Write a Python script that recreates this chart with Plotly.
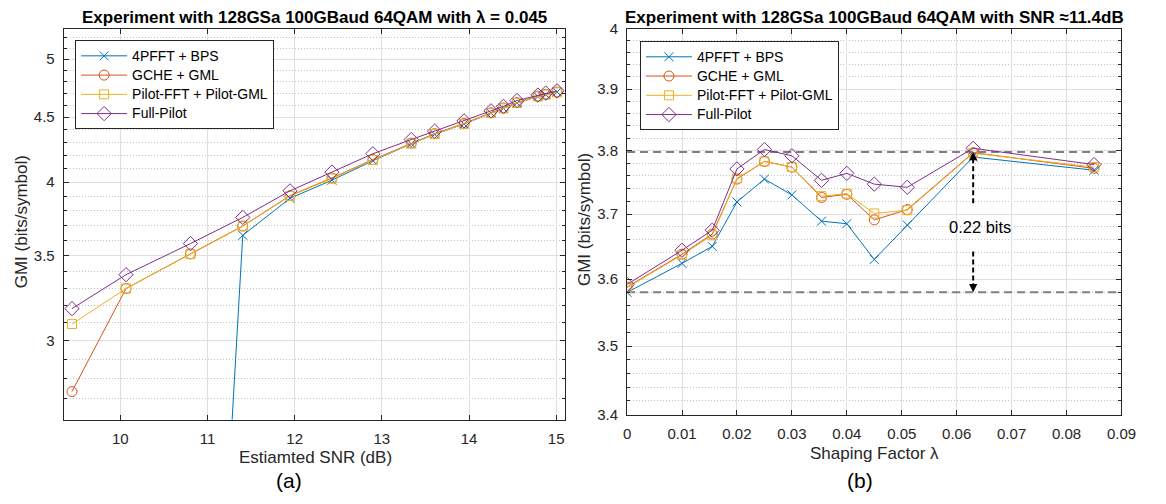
import numpy as np
import plotly.graph_objects as go

W, H = 1166, 504

# ---- Panel (a): GMI vs. estimated SNR, lambda = 0.045 ----
snr_db = [9.445, 10.065, 10.804, 11.404, 11.946, 12.427, 12.897, 13.337,
          13.605, 13.943, 14.252, 14.395, 14.55, 14.79, 14.88, 15.01]
gmi_a_bps = [0.45, 0.55, 0.70, 3.632, 3.884, 4.014, 4.158, 4.288,
             4.362, 4.445, 4.532, 4.572, 4.617, 4.672, 4.688, 4.710]
gmi_a_gche = [2.736, 3.298, 3.512, 3.694, 3.903, 4.030, 4.167, 4.293,
              4.367, 4.449, 4.536, 4.575, 4.620, 4.675, 4.690, 4.710]
gmi_a_pilot = [3.092, 3.298, 3.510, 3.692, 3.900, 4.026, 4.163, 4.290,
               4.364, 4.446, 4.533, 4.572, 4.617, 4.672, 4.688, 4.707]
gmi_a_full = [3.180, 3.382, 3.578, 3.752, 3.937, 4.073, 4.211, 4.321,
              4.387, 4.470, 4.552, 4.589, 4.638, 4.684, 4.701, 4.720]

# ---- Panel (b): GMI vs. shaping factor, SNR ~ 11.4 dB ----
shaping = [0, 0.01, 0.0155, 0.02, 0.025, 0.03, 0.0354, 0.04, 0.045, 0.051, 0.063, 0.085]
gmi_b_bps = [3.580, 3.624, 3.650, 3.719, 3.755, 3.730, 3.689, 3.685, 3.630, 3.683, 3.790, 3.769]
gmi_b_gche = [3.588, 3.638, 3.669, 3.755, 3.783, 3.774, 3.726, 3.731, 3.691, 3.707, 3.797, 3.772]
gmi_b_pilot = [3.587, 3.637, 3.667, 3.756, 3.783, 3.774, 3.728, 3.732, 3.701, 3.706, 3.796, 3.774]
gmi_b_full = [3.592, 3.644, 3.675, 3.771, 3.802, 3.792, 3.753, 3.764, 3.747, 3.742, 3.804, 3.778]

# reference levels and gap marker in panel (b)
ref_levels = [3.798, 3.58]
gap_lambda = 0.063
gap_upper_stem = [3.717, 3.786]
gap_lower_stem = [3.642, 3.592]
gap_label = "0.22 bits"
gap_label_pos = (0.0642, 3.680)

names = ["4PFFT + BPS", "GCHE + GML", "Pilot-FFT + Pilot-GML", "Full-Pilot"]
colors = ["#0072BD", "#D95319", "#EDB120", "#7E2F8E"]
symbols = ["x-thin-open", "circle-open", "square-open", "diamond-open"]
sizes = [9, 10, 9, 11]

# axis ticks
a_xticks = [10, 11, 12, 13, 14, 15]
a_yticks = [3, 3.5, 4, 4.5, 5]
a_yminor = [round(2.6 + 0.1 * i, 1) for i in range(27)]
b_xticks = [round(0.01 * i, 2) for i in range(10)]
b_yticks = [3.4, 3.5, 3.6, 3.7, 3.8, 3.9, 4.0]
b_yminor = [round(3.4 + 0.02 * i, 2) for i in range(31)]

FONT = "Liberation Sans, Arial, Helvetica, sans-serif"
AX = "#262626"
GRID = "#dfdfdf"
MINOR = "#c4c4c4"

fig = go.Figure()

series_a = [gmi_a_bps, gmi_a_gche, gmi_a_pilot, gmi_a_full]
series_b = [gmi_b_bps, gmi_b_gche, gmi_b_pilot, gmi_b_full]


def legend_label(s):
    # legend rows are spaced by the legend font size; the label itself is drawn larger
    return '<span style="font-size:14px">%s</span>' % s


for i in range(4):
    fig.add_trace(go.Scatter(
        x=snr_db, y=series_a[i], mode="lines+markers", name=legend_label(names[i]),
        line=dict(color=colors[i], width=1),
        marker=dict(symbol=symbols[i], size=sizes[i], color=colors[i],
                    line=dict(color=colors[i], width=1)),
        xaxis="x", yaxis="y", legend="legend"))

# dashed reference lines (panel b)
for lvl in ref_levels:
    fig.add_trace(go.Scatter(
        x=[b_xticks[0], b_xticks[-1]], y=[lvl, lvl], mode="lines",
        line=dict(color="#808080", width=2, dash="8px,5px"),
        showlegend=False, hoverinfo="skip", xaxis="x2", yaxis="y2"))

for i in range(4):
    fig.add_trace(go.Scatter(
        x=shaping, y=series_b[i], mode="lines+markers", name=legend_label(names[i]),
        line=dict(color=colors[i], width=1),
        marker=dict(symbol=symbols[i], size=sizes[i], color=colors[i],
                    line=dict(color=colors[i], width=1)),
        xaxis="x2", yaxis="y2", legend="legend2"))

# dashed arrow stems
for stem in (gap_upper_stem, gap_lower_stem):
    fig.add_trace(go.Scatter(
        x=[gap_lambda, gap_lambda], y=stem, mode="lines",
        line=dict(color="black", width=2, dash="5px,3px"),
        showlegend=False, hoverinfo="skip", xaxis="x2", yaxis="y2"))


def px_x(p):
    return p / W


def px_y(p):
    return 1 - p / H


def axis_common(**kw):
    d = dict(showline=True, linecolor=AX, linewidth=1, mirror="ticks",
             ticks="inside", ticklen=5, tickcolor=AX, tickwidth=1,
             showgrid=True, gridcolor=GRID, gridwidth=1, zeroline=False,
             ticklabelstandoff=5,
             tickfont=dict(family=FONT, size=15, color=AX))
    d.update(kw)
    return d


minor_dash = "1px,2px"

fig.update_layout(
    width=W, height=H, margin=dict(l=0, r=0, t=0, b=0),
    paper_bgcolor="white", plot_bgcolor="white",
    font=dict(family=FONT, color=AX),
    xaxis=axis_common(domain=[px_x(60.7), px_x(570.2)], range=[9.35, 15.1],
                      tickmode="array", tickvals=a_xticks, anchor="y"),
    yaxis=axis_common(domain=[px_y(425), px_y(20.7)], type="log",
                      range=[np.log10(2.6), np.log10(5.28)],
                      tickmode="array", tickvals=a_yticks,
                      ticktext=[str(v) for v in a_yticks], anchor="x",
                      minor=dict(tickmode="array", tickvals=a_yminor, ticks="inside",
                                 ticklen=3, tickcolor=AX, showgrid=True,
                                 gridcolor=MINOR, griddash=minor_dash)),
    xaxis2=axis_common(domain=[px_x(633.4), px_x(1136.0)], range=[0, 0.09],
                       tickmode="array", tickvals=b_xticks,
                       ticktext=[("%g" % v) for v in b_xticks], anchor="y2"),
    yaxis2=axis_common(domain=[px_y(420), px_y(20.7)], type="log",
                       range=[np.log10(3.4), np.log10(4.0)],
                       tickmode="array", tickvals=b_yticks,
                       ticktext=[("%g" % v) for v in b_yticks], anchor="x2",
                       minor=dict(tickmode="array", tickvals=b_yminor, ticks="inside",
                                  ticklen=3, tickcolor=AX, showgrid=True,
                                  gridcolor=MINOR, griddash=minor_dash)),
    legend=dict(x=px_x(72.3), y=px_y(32.3), xanchor="left", yanchor="top",
                bgcolor="white", bordercolor=AX, borderwidth=1,
                font=dict(family=FONT, size=12.5, color="black"), itemwidth=46,
                tracegroupgap=0),
    legend2=dict(x=px_x(646.5), y=px_y(33.3), xanchor="left", yanchor="top",
                 bgcolor="white", bordercolor=AX, borderwidth=1,
                 font=dict(family=FONT, size=12.5, color="black"), itemwidth=46,
                 tracegroupgap=0),
)

ann = []
# panel titles
ann.append(dict(text="<b>Experiment with 128GSa 100GBaud 64QAM with λ = 0.045</b>",
                x=px_x(316), y=px_y(8.5), xref="paper", yref="paper",
                xanchor="center", yanchor="middle", showarrow=False,
                font=dict(family=FONT, size=17, color="black")))
ann.append(dict(text="<b>Experiment with 128GSa 100GBaud 64QAM with SNR ≈11.4dB</b>",
                x=px_x(885), y=px_y(8.5), xref="paper", yref="paper",
                xanchor="center", yanchor="middle", showarrow=False,
                font=dict(family=FONT, size=17, color="black")))
# axis titles
for txt, xc, yc in [("Estiamted SNR (dB)", 316.7, 464), ("Shaping Factor λ", 884.5, 460)]:
    ann.append(dict(text=txt, x=px_x(xc), y=px_y(yc), xref="paper", yref="paper",
                    xanchor="center", yanchor="middle", showarrow=False,
                    font=dict(family=FONT, size=17, color=AX)))
for xc, yc in [(18, 220), (590, 218)]:
    ann.append(dict(text="GMI (bits/symbol)", x=px_x(xc), y=px_y(yc), xref="paper",
                    yref="paper", xanchor="center", yanchor="middle", textangle=-90,
                    showarrow=False, font=dict(family=FONT, size=17, color=AX)))
# sub-figure labels
for txt, xc in [("(a)", 290), ("(b)", 870)]:
    ann.append(dict(text=txt, x=px_x(xc), y=px_y(488), xref="paper", yref="paper",
                    xanchor="center", yanchor="middle", showarrow=False,
                    font=dict(family=FONT, size=21, color="black")))
# gap label and arrowheads (log axis positions are given in log10)
ann.append(dict(text=gap_label, x=gap_label_pos[0], y=np.log10(gap_label_pos[1]),
                xref="x2", yref="y2", xanchor="center", yanchor="middle",
                showarrow=False, font=dict(family=FONT, size=16.5, color="black")))
ann.append(dict(text="", x=gap_lambda, y=np.log10(ref_levels[0]), xref="x2", yref="y2",
                showarrow=True, ax=0, ay=10, arrowhead=2, arrowsize=1.1,
                arrowwidth=1.5, arrowcolor="black"))
ann.append(dict(text="", x=gap_lambda, y=np.log10(ref_levels[1]), xref="x2", yref="y2",
                showarrow=True, ax=0, ay=-10, arrowhead=2, arrowsize=1.1,
                arrowwidth=1.5, arrowcolor="black"))
fig.update_layout(annotations=ann)

# the figure fills the page edge to edge
fig.write_html("out.html",
               post_script="document.body.style.margin='0';document.body.style.overflow='hidden';")
